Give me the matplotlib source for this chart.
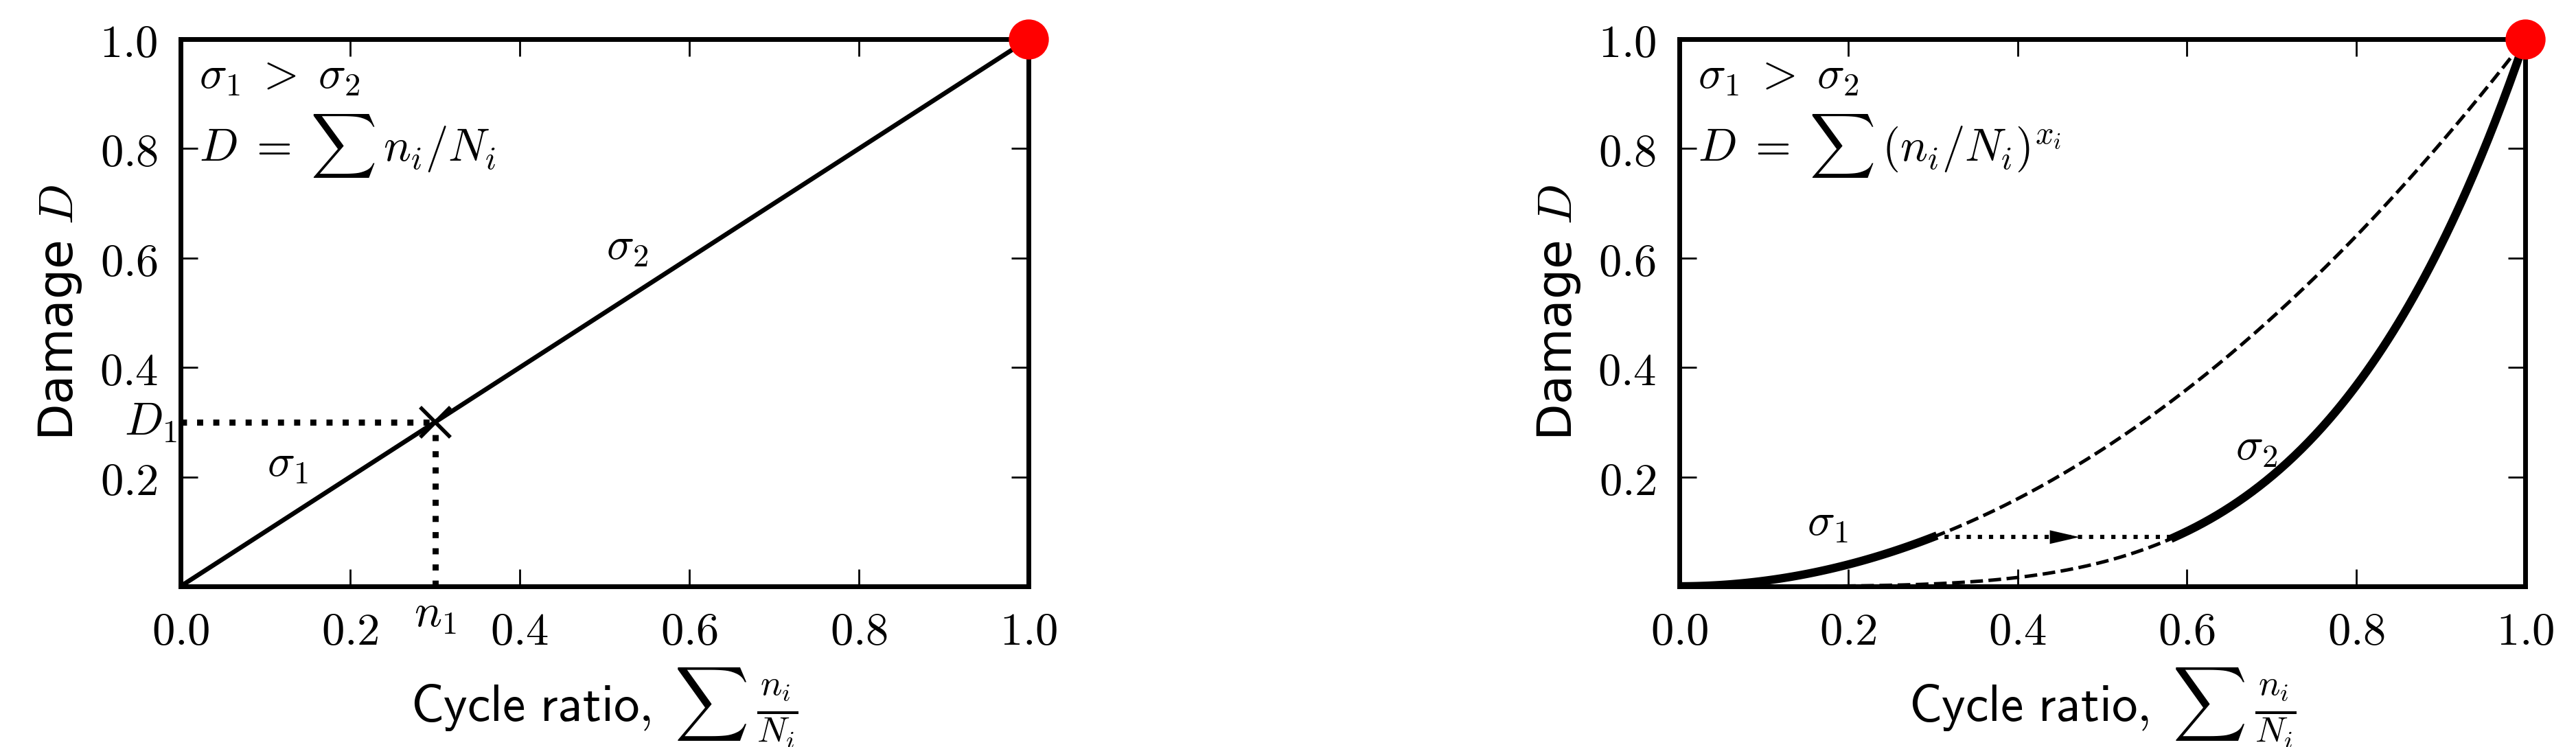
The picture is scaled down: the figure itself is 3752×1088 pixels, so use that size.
import numpy as np
import matplotlib
matplotlib.use("Agg")
import matplotlib.pyplot as plt
from matplotlib.ticker import FuncFormatter, FixedLocator

#==================#
# Global variables #
#==================#

plt.rcParams['font.size'] = 12
plt.rcParams['mathtext.fontset'] = 'cm'
plt.rcParams['xtick.direction'] = 'in'
plt.rcParams['ytick.direction'] = 'in'
plt.rcParams['xtick.top'] = True
plt.rcParams['ytick.right'] = True
plt.rcParams['xtick.major.size'] = 4.5
plt.rcParams['ytick.major.size'] = 4.5
plt.rcParams['xtick.major.width'] = 0.5
plt.rcParams['ytick.major.width'] = 0.5
plt.rcParams['xtick.major.pad'] = 6
plt.rcParams['ytick.major.pad'] = 6
plt.rcParams['axes.linewidth'] = 1.25

# data
x_ticks = [0.0, 0.2, 0.4, 0.6, 0.8, 1.0]
y_ticks = [0.2, 0.4, 0.6, 0.8, 1.0]
linear_x = [0.0, 1.0]
linear_y = [0.0, 1.0]
n1 = 0.3          # cycle ratio spent at sigma_1
D1 = 0.3          # damage reached at sigma_1 (linear rule)
exponents = [2.0, 4.5]   # x_1, x_2 of the nonlinear rule
failure = (1.0, 1.0)

XLABEL = r'$\mathsf{Cycle\ ratio,}\;\sum\,\frac{n_i}{N_i}$'
YLABEL = r'Damage $D$'


#=====================#
# Plotting parameters #
#=====================#

def plot_params(ax):
    ax.set_xlim(0, 1)
    ax.set_ylim(0, 1)
    ax.xaxis.set_major_locator(FixedLocator(x_ticks))
    ax.yaxis.set_major_locator(FixedLocator(y_ticks))
    fmt = FuncFormatter(lambda v, p: r'$%.1f$' % v)
    ax.xaxis.set_major_formatter(fmt)
    ax.yaxis.set_major_formatter(fmt)
    ax.set_xlabel(XLABEL, fontsize=13.5, labelpad=3)
    ax.set_ylabel(YLABEL, fontsize=12.5)


fig = plt.figure(figsize=(9.38, 2.72), dpi=400)
ax1 = fig.add_axes([0.0701, 0.2151, 0.3292, 0.7325])
ax2 = fig.add_axes([0.6519, 0.2151, 0.3284, 0.7325])

#=============#
# Linear rule #
#=============#

ax1.plot(linear_x, linear_y, 'k-', lw=1.2)
ax1.plot([0, n1], [D1, D1], 'k:', lw=1.6)
ax1.plot([n1, n1], [0, D1], 'k:', lw=1.6)
ax1.plot([n1], [D1], 'kx', ms=8, mew=1.0)
ax1.plot([failure[0]], [failure[1]], 'o', color='red', mec='red', ms=9.5, clip_on=False, zorder=5)

ax1.text(0.022, 0.975, '$\\sigma_1 \\;>\\; \\sigma_2$\n$D \\;=\\; \\sum\\, n_i/N_i$', transform=ax1.transAxes,
         va='top', ha='left', linespacing=1.3)
ax1.text(0.527, 0.621, r'$\sigma_2$', ha='center', va='center')
ax1.text(0.126, 0.225, r'$\sigma_1$', ha='center', va='center')
ax1.text(-0.035, D1, r'$D_1$', ha='center', va='center', clip_on=False)
ax1.text(n1, -0.05, r'$n_1$', ha='center', va='center', clip_on=False)
plot_params(ax1)

#================#
# Nonlinear rule #
#================#

x1, x2 = exponents
Dn = n1 ** x1
r2 = Dn ** (1.0 / x2)

r_a = np.linspace(0, n1, 100)
r_b = np.linspace(n1, 1, 200)
r_c = np.linspace(0, r2, 200)
r_d = np.linspace(r2, 1, 200)

ax2.plot(r_a, r_a ** x1, 'k-', lw=2.2)
ax2.plot(r_b, r_b ** x1, 'k--', lw=0.9)
ax2.plot(r_c, r_c ** x2, 'k--', lw=0.9)
ax2.plot(r_d, r_d ** x2, 'k-', lw=2.2)
ax2.plot([n1, r2], [Dn, Dn], 'k:', lw=1.1)
ax2.arrow(n1, Dn, 0.473 - n1, 0, width=0, head_width=0.025, head_length=0.035,
          length_includes_head=True, fc='k', ec='k', lw=0)
ax2.plot([failure[0]], [failure[1]], 'o', color='red', mec='red', ms=9.5, clip_on=False, zorder=5)

ax2.text(0.022, 0.975, '$\\sigma_1 \\;>\\; \\sigma_2$\n$D \\;=\\; \\sum\\,(n_i/N_i)^{x_i}$', transform=ax2.transAxes,
         va='top', ha='left', linespacing=1.3)
ax2.text(0.175, 0.117, r'$\sigma_1$', ha='center', va='center')
ax2.text(0.682, 0.255, r'$\sigma_2$', ha='center', va='center')
plot_params(ax2)

fig.savefig('out.png', dpi=400)
